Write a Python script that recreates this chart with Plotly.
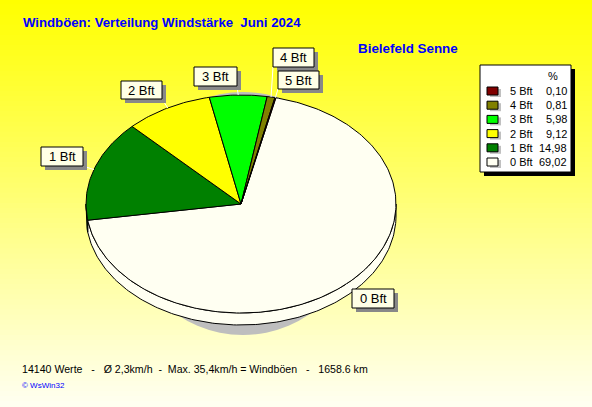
import numpy as np
import plotly.graph_objects as go

# data
categories = ["0 Bft", "1 Bft", "2 Bft", "3 Bft", "4 Bft", "5 Bft"]
percent = [69.02, 14.98, 9.12, 5.98, 0.81, 0.10]
n_values = 14140
avg_speed = "2,3"
max_speed = "35,4"
distance = "1658.6"
title = "Windböen: Verteilung Windstärke  Juni 2024"
station = "Bielefeld Senne"

# style
colors = ["#FFFFF2", "#008000", "#FFFF00", "#00FF00", "#808000", "#800000"]
W, H = 592, 407
cx, cy, rx, ry, depth = 241, 204, 155, 109, 12
start = 77
label_boxes = [(352, 289, 394, 308), (41, 147, 83, 166), (121, 81, 162, 99),
               (194, 67, 237, 86), (273, 48, 314, 67), (278, 71, 319, 89)]


def arc(t0, t1, dy=0):
    n = max(2, int(abs(t1 - t0)) + 2)
    t = np.radians(np.linspace(t0, t1, n))
    return cx + rx*np.cos(t), cy + dy - ry*np.sin(t)


fig = go.Figure()
shapes = []
annotations = []

# background gradient
bands = 80
for i in range(bands):
    g = int(round(240*i/(bands - 1)))
    shapes.append(dict(type="rect", xref="paper", yref="paper", x0=0, x1=1,
                       y0=1 - (i + 1)/bands, y1=1 - i/bands + 0.002,
                       fillcolor="rgb(255,255,%d)" % g, line_width=0, layer="below"))

# pie shadow
shapes.append(dict(type="circle", xref="x", yref="y", x0=124, x1=362, y0=92, y1=335,
                   fillcolor="#BEBEBE", line_width=0, layer="below"))

cum = np.concatenate([[0], np.cumsum(percent)]) / sum(percent) * 360
a0s = start - cum[:-1]
a1s = start - cum[1:]

# sides (visible lower half)
for i in range(len(percent)):
    for k in (-1, 0, 1):
        lo = max(a1s[i] + k*360, -180)
        hi = min(a0s[i] + k*360, 0)
        if lo < hi:
            x1, y1 = arc(hi, lo)
            x2, y2 = arc(lo, hi, depth)
            fig.add_trace(go.Scatter(x=np.concatenate([x1, x2, x1[:1]]),
                                     y=np.concatenate([y1, y2, y1[:1]]),
                                     mode="lines", fill="toself", fillcolor=colors[i],
                                     line=dict(color="black", width=1),
                                     hoverinfo="skip", showlegend=False))

# top faces
for i in range(len(percent)):
    ax, ay = arc(a0s[i], a1s[i])
    fig.add_trace(go.Scatter(x=np.concatenate([[cx], ax, [cx]]),
                             y=np.concatenate([[cy], ay, [cy]]),
                             mode="lines", fill="toself", fillcolor=colors[i],
                             line=dict(color="black", width=1),
                             hoverinfo="skip", showlegend=False))

# labels with leader lines
for i, (bx0, by0, bx1, by1) in enumerate(label_boxes):
    mid = np.radians((a0s[i] + a1s[i]) / 2)
    px, py = cx + rx*np.cos(mid), cy - ry*np.sin(mid)
    qx, qy = min(max(px, bx0), bx1), min(max(py, by0), by1)
    shapes.append(dict(type="line", xref="x", yref="y", x0=px, y0=py, x1=qx, y1=qy,
                       line=dict(color="white", width=1)))
    shapes.append(dict(type="rect", xref="x", yref="y", x0=bx0 + 4, x1=bx1 + 4,
                       y0=by0 + 4, y1=by1 + 4, fillcolor="#888888", line_width=0))
    shapes.append(dict(type="rect", xref="x", yref="y", x0=bx0, x1=bx1, y0=by0, y1=by1,
                       fillcolor="#FFFFE6", line=dict(color="black", width=1)))
    annotations.append(dict(x=(bx0 + bx1)/2, y=(by0 + by1)/2, xref="x", yref="y",
                            text=categories[i], showarrow=False,
                            font=dict(size=13, color="black")))

# legend table
shapes.append(dict(type="rect", xref="x", yref="y", x0=484, x1=575, y0=69, y1=176,
                   fillcolor="black", line_width=0))
shapes.append(dict(type="rect", xref="x", yref="y", x0=480, x1=571, y0=65, y1=172,
                   fillcolor="white", line=dict(color="black", width=1)))
annotations.append(dict(x=553, y=76, xref="x", yref="y", text="%", showarrow=False,
                        font=dict(size=11, color="black")))
for row, i in enumerate(range(len(percent) - 1, -1, -1)):
    ry_row = 91 + row*14.2
    shapes.append(dict(type="rect", xref="x", yref="y", x0=490, x1=501,
                       y0=ry_row - 2, y1=ry_row + 6, fillcolor="#C0C0C0", line_width=0))
    shapes.append(dict(type="rect", xref="x", yref="y", x0=487, x1=498,
                       y0=ry_row - 4, y1=ry_row + 4, fillcolor=colors[i],
                       line=dict(color="black", width=1)))
    annotations.append(dict(x=508, y=ry_row, xref="x", yref="y", text=categories[i],
                            xanchor="left", showarrow=False,
                            font=dict(size=11, color="black")))
    annotations.append(dict(x=569, y=ry_row, xref="x", yref="y",
                            text=("%.2f" % percent[i]).replace(".", ","),
                            xanchor="right", showarrow=False,
                            font=dict(size=11, color="black")))

# titles and footer
annotations.append(dict(x=21, y=22, xref="x", yref="y", text="<b>%s</b>" % title,
                        xanchor="left", showarrow=False,
                        font=dict(size=13.2, color="#0000FF")))
annotations.append(dict(x=356, y=48, xref="x", yref="y", text="<b>%s</b>" % station,
                        xanchor="left", showarrow=False,
                        font=dict(size=13.4, color="#0000FF")))
footer = "%d Werte   -   Ø %skm/h  -  Max. %skm/h = Windböen   -   %s km" % (
    n_values, avg_speed, max_speed, distance)
annotations.append(dict(x=20, y=369, xref="x", yref="y", text=footer,
                        xanchor="left", showarrow=False,
                        font=dict(size=10.6, color="black")))
annotations.append(dict(x=20, y=385, xref="x", yref="y", text="© WsWin32",
                        xanchor="left", showarrow=False,
                        font=dict(size=8, color="#0000FF")))

fig.update_layout(
    width=W, height=H, margin=dict(l=0, r=0, t=0, b=0),
    paper_bgcolor="#FFFF80", plot_bgcolor="rgba(0,0,0,0)",
    font=dict(family="Liberation Sans, Arial, sans-serif"),
    xaxis=dict(range=[0, W], visible=False, fixedrange=True),
    yaxis=dict(range=[H, 0], visible=False, fixedrange=True),
    shapes=shapes, annotations=annotations, showlegend=False,
)

fig.write_html("out.html", config={"displayModeBar": False},
               post_script="document.body.style.margin='0';")
